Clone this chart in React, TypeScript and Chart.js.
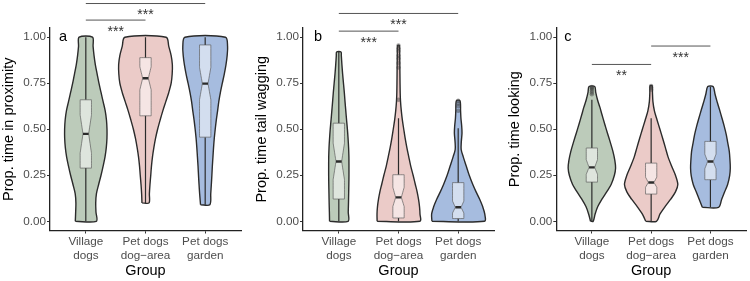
import React, { useEffect, useRef } from "react";
import { Chart, registerables } from "chart.js";

Chart.register(...registerables);

// ---------- data ----------
const groupLabels: string[][] = [["Village", "dogs"], ["Pet dogs", "dog−area"], ["Pet dogs", "garden"]];
const groupPositions = [1, 2, 3];
const yTickValues = [0, 0.25, 0.5, 0.75, 1];
const yTickLabels = ["0.00", "0.25", "0.50", "0.75", "1.00"];
const xTitle = "Group";
const yTitles = ["Prop. time in proximity", "Prop. time tail wagging", "Prop. time looking"];
const panelTags = ["a", "b", "c"];

// violin outlines: [value, half width in group units]
const proximityVillage = [[0,0.176],[0.05,0.17],[0.1,0.166],[0.15,0.178],[0.2,0.215],[0.25,0.255],[0.3,0.29],[0.35,0.322],[0.4,0.343],[0.45,0.354],[0.5,0.355],[0.55,0.346],[0.6,0.325],[0.65,0.29],[0.7,0.255],[0.75,0.22],[0.8,0.19],[0.85,0.16],[0.9,0.138],[0.95,0.122],[1,0.112]];
const proximityDogArea = [[0.1,0.059],[0.15,0.065],[0.2,0.075],[0.25,0.088],[0.3,0.1],[0.35,0.117],[0.4,0.14],[0.45,0.168],[0.5,0.203],[0.55,0.245],[0.6,0.29],[0.65,0.34],[0.7,0.39],[0.75,0.43],[0.8,0.447],[0.85,0.45],[0.9,0.43],[0.95,0.39],[1,0.345]];
const proximityGarden = [[0.09,0.078],[0.15,0.093],[0.2,0.103],[0.25,0.112],[0.3,0.12],[0.35,0.13],[0.4,0.14],[0.45,0.152],[0.5,0.168],[0.55,0.186],[0.6,0.208],[0.65,0.228],[0.7,0.255],[0.75,0.287],[0.8,0.32],[0.85,0.348],[0.9,0.368],[0.95,0.375],[1,0.34]];

const waggingVillage = [[0,0.155],[0.05,0.158],[0.1,0.162],[0.15,0.165],[0.2,0.168],[0.25,0.17],[0.3,0.17],[0.35,0.169],[0.4,0.164],[0.45,0.155],[0.5,0.144],[0.55,0.13],[0.6,0.117],[0.65,0.104],[0.7,0.092],[0.75,0.078],[0.8,0.064],[0.85,0.052],[0.9,0.042],[0.92,0.037]];
const waggingDogArea = [[0,0.358],[0.04,0.36],[0.08,0.352],[0.12,0.335],[0.16,0.312],[0.2,0.282],[0.25,0.245],[0.3,0.205],[0.35,0.172],[0.4,0.14],[0.45,0.112],[0.5,0.088],[0.55,0.065],[0.6,0.047],[0.65,0.034],[0.7,0.028],[0.8,0.024],[0.9,0.02],[0.955,0.014]];
const waggingGarden = [[0,0.44],[0.04,0.445],[0.08,0.41],[0.12,0.36],[0.16,0.3],[0.2,0.245],[0.25,0.185],[0.3,0.135],[0.35,0.085],[0.39,0.05],[0.43,0.052],[0.48,0.064],[0.52,0.058],[0.56,0.046],[0.6,0.04],[0.655,0.03]];

const lookingVillage = [[0,0.022],[0.04,0.055],[0.08,0.1],[0.12,0.17],[0.16,0.25],[0.2,0.325],[0.25,0.38],[0.29,0.4],[0.33,0.388],[0.38,0.355],[0.43,0.31],[0.48,0.262],[0.53,0.215],[0.58,0.17],[0.62,0.135],[0.66,0.095],[0.7,0.065],[0.732,0.048]];
const lookingDogArea = [[0,0.09],[0.04,0.15],[0.08,0.235],[0.12,0.33],[0.16,0.41],[0.2,0.45],[0.25,0.41],[0.3,0.345],[0.35,0.285],[0.4,0.24],[0.45,0.195],[0.5,0.148],[0.55,0.1],[0.6,0.055],[0.65,0.03],[0.7,0.022],[0.736,0.018]];
const lookingGarden = [[0.076,0.137],[0.12,0.19],[0.16,0.24],[0.2,0.29],[0.25,0.325],[0.29,0.335],[0.33,0.33],[0.38,0.318],[0.43,0.29],[0.47,0.268],[0.52,0.23],[0.56,0.195],[0.61,0.15],[0.65,0.112],[0.69,0.078],[0.732,0.045]];

// box stats: [whiskerLow, q1, notchLow, median, notchHigh, q3, whiskerHigh]
const proximityBoxes = [[0,0.289,0.37,0.475,0.578,0.66,1],[0.1,0.573,0.714,0.777,0.84,0.889,1],[0.09,0.457,0.66,0.748,0.836,0.958,1]];
const waggingBoxes = [[0,0.121,0.226,0.325,0.425,0.533,0.92],[0,0.018,0.08,0.13,0.185,0.253,0.56],[0,0.015,0.045,0.076,0.11,0.21,0.506]];
const lookingBoxes = [[0,0.213,0.255,0.293,0.335,0.398,0.66],[0,0.148,0.185,0.211,0.24,0.316,0.56],[0.076,0.226,0.285,0.325,0.365,0.434,0.732]];

const proximityOutliers: number[][] = [[], [], []];
const waggingOutliers: number[][] = [[], [0.955,0.94,0.925,0.9,0.885,0.86,0.835,0.66], [0.655,0.64,0.625,0.6]];
const lookingOutliers: number[][] = [[0.73,0.725,0.72,0.71,0.7,0.69], [0.735,0.725,0.715], []];

// significance bars: [from group, to group, height, label]
const proximitySignif: [number, number, number, string][] = [[1,2,1.093,"***"],[1,3,1.183,"***"]];
const waggingSignif: [number, number, number, string][] = [[1,2,1.033,"***"],[1,3,1.129,"***"]];
const lookingSignif: [number, number, number, string][] = [[1,2,0.852,"**"],[2,3,0.952,"***"]];

// ---------- styles ----------
const FONT = '"Liberation Sans", Arial, Helvetica, sans-serif';
const violinFills = ["#bccbba", "#ebcbc8", "#a6bcdf"];
const BOX_HALF = 0.095;
const NOTCH_HALF = 0.0475;

const panels = [
  { title: yTitles[0], tag: panelTags[0], violins: [proximityVillage, proximityDogArea, proximityGarden], boxes: proximityBoxes, outliers: proximityOutliers, signif: proximitySignif, left: 50, right: 9, titlePad: 0.3, tagDx: 13 },
  { title: yTitles[1], tag: panelTags[1], violins: [waggingVillage, waggingDogArea, waggingGarden], boxes: waggingBoxes, outliers: waggingOutliers, signif: waggingSignif, left: 53, right: 6, titlePad: 3, tagDx: 15 },
  { title: yTitles[2], tag: panelTags[2], violins: [lookingVillage, lookingDogArea, lookingGarden], boxes: lookingBoxes, outliers: lookingOutliers, signif: lookingSignif, left: 56.3, right: 3, titlePad: 6.3, tagDx: 11.5 },
];

function violinPoints(c: number, dens: number[][]) {
  const left = dens.map(([y, w]) => ({ x: c - w, y }));
  const right = dens.slice().reverse().map(([y, w]) => ({ x: c + w, y }));
  return [...left, ...right, left[0]];
}

function boxPoints(c: number, s: number[]) {
  const [, q1, nlo, med, nhi, q3] = s;
  const h = BOX_HALF, n = NOTCH_HALF;
  return [
    { x: c - h, y: q1 }, { x: c - h, y: nlo }, { x: c - n, y: med }, { x: c - h, y: nhi }, { x: c - h, y: q3 },
    { x: c + h, y: q3 }, { x: c + h, y: nhi }, { x: c + n, y: med }, { x: c + h, y: nlo }, { x: c + h, y: q1 },
    { x: c - h, y: q1 },
  ];
}

function buildDatasets(p: typeof panels[number]) {
  const ds: any[] = [];
  const base = { pointRadius: 0, pointHoverRadius: 0, showLine: true };
  groupPositions.forEach((c, i) => {
    const s = p.boxes[i];
    ds.push({ ...base, data: violinPoints(c, p.violins[i]), fill: "shape", backgroundColor: violinFills[i], borderColor: "#2b2b2b", borderWidth: 1.4, tension: 0.3, borderJoinStyle: "round", order: 6 });
    ds.push({ ...base, data: [{ x: c, y: s[5] }, { x: c, y: s[6] }], borderColor: "#2b2b2b", borderWidth: 1.2, fill: false, order: 5 });
    ds.push({ ...base, data: [{ x: c, y: s[1] }, { x: c, y: s[0] }], borderColor: "#2b2b2b", borderWidth: 1.2, fill: false, order: 5 });
    ds.push({ ...base, data: boxPoints(c, s), fill: "shape", backgroundColor: "rgba(255,255,255,0.5)", borderColor: "rgba(90,90,90,0.75)", borderWidth: 0.9, tension: 0.0001, order: 4 });
    ds.push({ ...base, data: [{ x: c - NOTCH_HALF, y: s[3] }, { x: c + NOTCH_HALF, y: s[3] }], borderColor: "#2b2b2b", borderWidth: 2.4, fill: false, order: 3 });
    if (p.outliers[i].length) {
      ds.push({ data: p.outliers[i].map((y) => ({ x: c, y })), showLine: false, pointRadius: 2.2, pointBorderWidth: 0, pointBackgroundColor: "rgba(60,60,60,0.45)", pointBorderColor: "rgba(0,0,0,0)", order: 2 });
    }
  });
  p.signif.forEach(([a, b, y]) => {
    ds.push({ ...base, data: [{ x: a, y }, { x: b, y }], borderColor: "#555", borderWidth: 1, fill: false, clip: false, order: 1 });
  });
  return ds;
}

function textPlugin(p: typeof panels[number]) {
  return {
    id: "panelTexts",
    afterDatasetsDraw(chart: any) {
      const { ctx, chartArea, scales } = chart;
      const xs = scales.x, ys = scales.y;
      ctx.save();
      ctx.font = `14px ${FONT}`;
      ctx.fillStyle = "#333";
      ctx.textAlign = "center";
      ctx.textBaseline = "alphabetic";
      p.signif.forEach(([a, b, y, label]) => {
        ctx.fillText(label, xs.getPixelForValue((a + b) / 2), ys.getPixelForValue(y) + 15.5);
      });
      ctx.font = `14.5px ${FONT}`;
      ctx.fillStyle = "#000";
      ctx.fillText(p.tag, chartArea.left + p.tagDx, chartArea.top + 12.7);
      ctx.restore();
    },
  };
}

function Panel({ p, offset }: { p: typeof panels[number]; offset: number }) {
  const ref = useRef<HTMLCanvasElement | null>(null);
  useEffect(() => {
    if (!ref.current) return;
    const chart = new Chart(ref.current, {
      type: "line",
      data: { datasets: buildDatasets(p) },
      plugins: [textPlugin(p)],
      options: {
        animation: false,
        responsive: false,
        devicePixelRatio: 1,
        events: [],
        layout: { padding: { top: 28, right: p.right, left: 0, bottom: 0 } },
        plugins: { legend: { display: false }, tooltip: { enabled: false } },
        scales: {
          x: {
            type: "linear",
            min: 0.4,
            max: 3.6,
            afterBuildTicks: (s: any) => { s.ticks = groupPositions.map((v) => ({ value: v })); },
            afterFit: (s: any) => { s.height = 50.5; },
            grid: { display: true, drawOnChartArea: false, drawTicks: true, tickLength: 3, color: "#333", lineWidth: 1 },
            border: { display: true, color: "#222", width: 1.3 },
            ticks: { color: "#4d4d4d", font: { family: FONT, size: 11.7 }, padding: 1, maxRotation: 0, autoSkip: false, callback: (v: any) => groupLabels[Math.round(Number(v)) - 1] },
            title: { display: true, text: xTitle, color: "#000", font: { family: FONT, size: 14.5 }, padding: { top: 0, bottom: 1.3 } },
          },
          y: {
            type: "linear",
            min: -0.05,
            max: 1.05,
            afterBuildTicks: (s: any) => { s.ticks = yTickValues.map((v) => ({ value: v })); },
            afterFit: (s: any) => { s.width = p.left; },
            grid: { display: true, drawOnChartArea: false, drawTicks: true, tickLength: 3, color: "#333", lineWidth: 1 },
            border: { display: true, color: "#222", width: 1.3 },
            ticks: { color: "#4d4d4d", font: { family: FONT, size: 11.7 }, padding: 1, callback: (v: any) => yTickLabels[yTickValues.indexOf(Number(v))] },
            title: { display: true, text: p.title, color: "#000", font: { family: FONT, size: 14.5 }, padding: { top: p.titlePad, bottom: 0 } },
          },
        },
      } as any,
    });
    return () => chart.destroy();
  }, [p]);
  return (
    <canvas ref={ref} width={250} height={281} style={{ position: "absolute", left: offset, top: 0, width: 250, height: 281 }} />
  );
}

export default function App() {
  return (
    <div style={{ position: "absolute", left: 0, top: 0, width: 750, height: 281, background: "#fff", overflow: "hidden" }}>
      {panels.map((p, i) => (
        <Panel key={i} p={p} offset={i * 250} />
      ))}
    </div>
  );
}
